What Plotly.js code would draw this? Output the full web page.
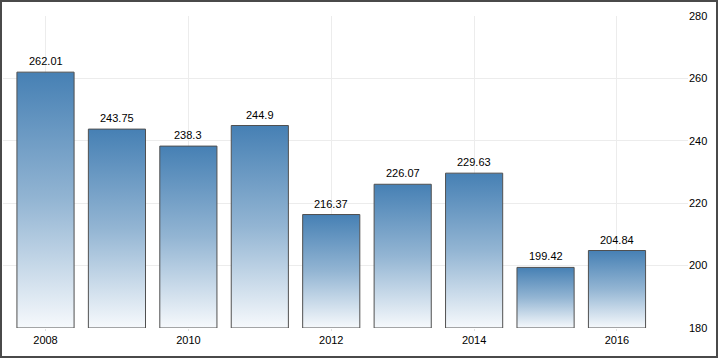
<!DOCTYPE html>
<html>
<head>
<meta charset="utf-8">
<script src="https://cdn.plot.ly/plotly-3.0.1.min.js"></script>
<style>
html,body{margin:0;padding:0;background:#fff;}
#wrap{position:relative;width:718px;height:358px;}
#chart{position:absolute;left:0;top:0;width:718px;height:358px;}
#frame{position:absolute;left:0;top:0;width:718px;height:358px;box-sizing:border-box;border:2px solid #4a4a4a;pointer-events:none;}
</style>
</head>
<body>
<div id="wrap"><div id="chart"></div><div id="frame"></div></div>
<script>
const years = [2008, 2009, 2010, 2011, 2012, 2013, 2014, 2015, 2016];
const values = [262.01, 243.75, 238.3, 244.9, 216.37, 226.07, 229.63, 199.42, 204.84];
const valueLabels = ['262.01', '243.75', '238.3', '244.9', '216.37', '226.07', '229.63', '199.42', '204.84'];
const yTicks = [180, 200, 220, 240, 260, 280];
const axisFloor = 180;

const font = 'Liberation Sans, Arial, sans-serif';

const trace = {
  type: 'bar',
  x: years,
  y: values.map(function (v) { return v - axisFloor; }),
  base: axisFloor,
  width: 0.8,
  marker: {color: '#4a82b6', line: {color: '#505050', width: 1}},
  hoverinfo: 'skip'
};

const annotations = years.map(function (yr, i) {
  return {
    x: yr, y: values[i], xref: 'x', yref: 'y',
    text: valueLabels[i], showarrow: false,
    xanchor: 'center', yanchor: 'bottom', yshift: 3,
    font: {family: font, size: 11, color: '#000'}
  };
});

const layout = {
  width: 718,
  height: 358,
  margin: {l: 3, r: 30, t: 16, b: 30},
  paper_bgcolor: '#fff',
  plot_bgcolor: '#fff',
  showlegend: false,
  font: {family: font, size: 11, color: '#000'},
  annotations: annotations,
  xaxis: {
    range: [2007.405, 2016.994],
    tickvals: [2008, 2010, 2012, 2014, 2016],
    ticktext: ['2008', '2010', '2012', '2014', '2016'],
    showgrid: true,
    gridcolor: '#ececec',
    gridwidth: 1,
    ticks: 'outside',
    ticklen: 2,
    tickcolor: '#e0e0e0',
    zeroline: false,
    showline: false,
    tickfont: {family: font, size: 11, color: '#000'}
  },
  yaxis: {
    side: 'right',
    range: [180, 280],
    tickvals: yTicks,
    showgrid: true,
    gridcolor: '#ececec',
    gridwidth: 1,
    ticks: '',
    zeroline: false,
    showline: false,
    tickfont: {family: font, size: 11, color: '#000'}
  }
};

Plotly.newPlot('chart', [trace], layout, {staticPlot: true, displayModeBar: false}).then(function (gd) {
  const svg = gd.querySelector('svg.main-svg');
  const ns = 'http://www.w3.org/2000/svg';
  let defs = svg.querySelector('defs');
  if (!defs) { defs = document.createElementNS(ns, 'defs'); svg.insertBefore(defs, svg.firstChild); }
  const grad = document.createElementNS(ns, 'linearGradient');
  grad.setAttribute('id', 'barGrad');
  grad.setAttribute('x1', '0'); grad.setAttribute('y1', '0');
  grad.setAttribute('x2', '0'); grad.setAttribute('y2', '1');
  [['0', '#4680b4'], ['0.5', '#93b5d3'], ['1', '#f6f9fc']].forEach(function (s) {
    const st = document.createElementNS(ns, 'stop');
    st.setAttribute('offset', s[0]);
    st.setAttribute('stop-color', s[1]);
    grad.appendChild(st);
  });
  defs.appendChild(grad);
  gd.querySelectorAll('.bars .point path').forEach(function (p) {
    p.style.fill = 'url(#barGrad)';
  });
});
</script>
</body>
</html>
